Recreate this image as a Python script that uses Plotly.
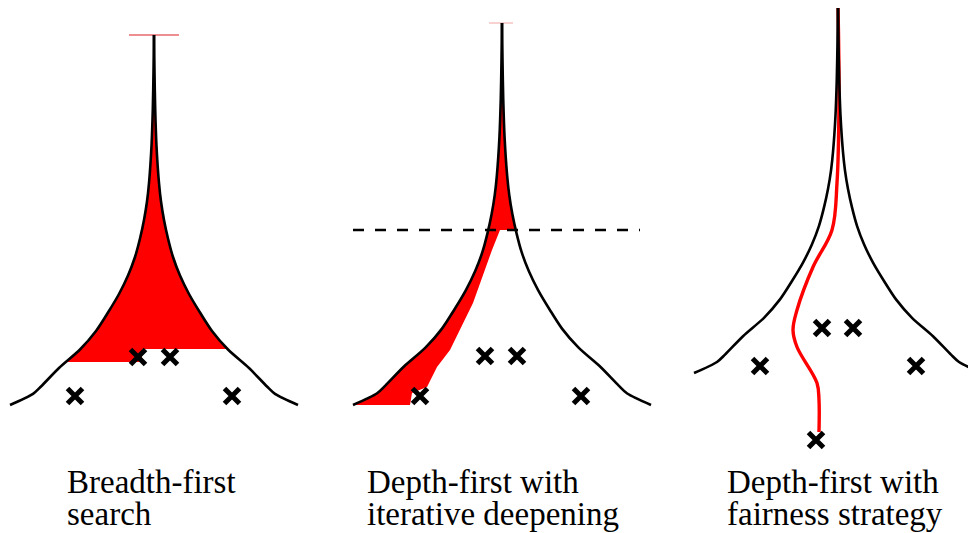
import numpy as np
import plotly.graph_objects as go

# ---- schematic data (pixel-space diagram units) ----
apex_x = [154, 502, 838]
top_y = [35, 23, 5]
base_y = [405, 405, 373]
half_width = [144, 149, 144]

# common outline profile of a search tree: depth fraction -> half-width (px at 144)
profile_t = [0, .1, .2, .3, .4, .45, .5, .55, .6, .65, .7, .75, .8, .85, .9, .95, .97, 1.0]
profile_w = [0, .5, 1.2, 2.5, 5, 7, 10, 14, 19, 26, 35, 46, 58, 74, 95, 113, 121, 144]

# solutions (crosses) per panel
sol_x = [[75, 232, 138, 170], [420, 581, 485, 517], [760, 916, 822, 853, 816]]
sol_y = [[396, 396, 357, 357], [396, 396, 356, 356], [366, 366, 328, 328, 440]]

# breadth-first explored frontier levels
bfs_cut_left_y = 362
bfs_cut_right_y = 349
bfs_step_x = 142

# iterative deepening depth limit and explored band inner edge
iddfs_limit_y = 230
iddfs_limit_x = [353, 640]
iddfs_inner_x = [410, 412, 427, 437, 450, 473, 480, 492, 500]
iddfs_inner_y = [405, 393, 387, 367, 350, 303, 283, 250, 230]

# fairness strategy path
fair_x = [838, 839, 837, 832, 813, 797, 793, 797, 817, 819, 819]
fair_y = [5, 100, 183, 230, 267, 310, 330, 347, 383, 400, 432]

# root caps
cap_x = [[129, 179], [489, 513]]
cap_y = [35, 23]
cap_color = ["#e8696b", "#f5b8b8"]

caption_l1 = ["Breadth-first", "Depth-first with", "Depth-first with"]
caption_l2 = ["search", "iterative deepening", "fairness strategy"]
caption_x = [66, 366, 726]

RED = "#ff0000"
PAGE_MARGIN = 8  # browser default body margin


def outline(i):
    t = np.array(profile_t)
    w = np.array(profile_w) / 144.0 * half_width[i]
    ys = top_y[i] + t * (base_y[i] - top_y[i])
    return apex_x[i] - w, apex_x[i] + w, ys


def x_at(xs, ys, y):
    return float(np.interp(y, ys, xs))


fig = go.Figure()

# panel 1 red fill
lx, rx, ys = outline(0)
m1 = ys < bfs_cut_left_y
m2 = ys < bfs_cut_right_y
px = list(lx[m1]) + [x_at(lx, ys, bfs_cut_left_y), bfs_step_x, bfs_step_x, x_at(rx, ys, bfs_cut_right_y)] + list(rx[m2][::-1])
py = list(ys[m1]) + [bfs_cut_left_y, bfs_cut_left_y, bfs_cut_right_y, bfs_cut_right_y] + list(ys[m2][::-1])
fig.add_trace(go.Scatter(x=px, y=py, fill="toself", fillcolor=RED, mode="lines", line=dict(width=0), hoverinfo="skip"))

# panel 2 red fill
lx, rx, ys = outline(1)
m = ys < iddfs_limit_y
px = list(lx) + iddfs_inner_x + [x_at(rx, ys, iddfs_limit_y)] + list(rx[m][::-1])
py = list(ys) + iddfs_inner_y + [iddfs_limit_y] + list(ys[m][::-1])
fig.add_trace(go.Scatter(x=px, y=py, fill="toself", fillcolor=RED, mode="lines", line=dict(width=0), hoverinfo="skip"))

# panel 3 red path
fig.add_trace(go.Scatter(x=fair_x, y=fair_y, mode="lines", line=dict(color=RED, width=3.4, shape="spline"), hoverinfo="skip"))

# caps
for cx, cy, cc in zip(cap_x, cap_y, cap_color):
    fig.add_trace(go.Scatter(x=cx, y=[cy, cy], mode="lines", line=dict(color=cc, width=1.3), hoverinfo="skip"))

# tree outlines
for i in range(3):
    lx, rx, ys = outline(i)
    for xs in (lx, rx):
        fig.add_trace(go.Scatter(x=xs, y=ys, mode="lines",
                                 line=dict(color="black", width=2.6, shape="spline", smoothing=0.8),
                                 hoverinfo="skip"))

# depth limit
fig.add_trace(go.Scatter(x=iddfs_limit_x, y=[iddfs_limit_y] * 2, mode="lines",
                         line=dict(color="black", width=2.6, dash="11px,11px"), hoverinfo="skip"))

# solutions
for xs, ys_ in zip(sol_x, sol_y):
    fig.add_trace(go.Scatter(x=xs, y=ys_, mode="markers",
                             marker=dict(symbol="x-thin", size=15, line=dict(color="black", width=5)),
                             hoverinfo="skip"))

annotations = []
for cx, l1, l2 in zip(caption_x, caption_l1, caption_l2):
    for yy, txt in ((482, l1), (514, l2)):
        annotations.append(dict(x=cx, y=yy, text=txt, xanchor="left", yanchor="middle", showarrow=False,
                                borderpad=0,
                                font=dict(family="Liberation Serif", size=33, color="black")))

W, H = 976, 533
fig.update_layout(
    width=W - PAGE_MARGIN, height=H - PAGE_MARGIN, margin=dict(l=0, r=0, t=0, b=0),
    paper_bgcolor="white", plot_bgcolor="white", showlegend=False,
    xaxis=dict(range=[PAGE_MARGIN, W], visible=False, fixedrange=True),
    yaxis=dict(range=[H, PAGE_MARGIN], visible=False, fixedrange=True),
    annotations=annotations,
)

fig.write_html("out.html")
